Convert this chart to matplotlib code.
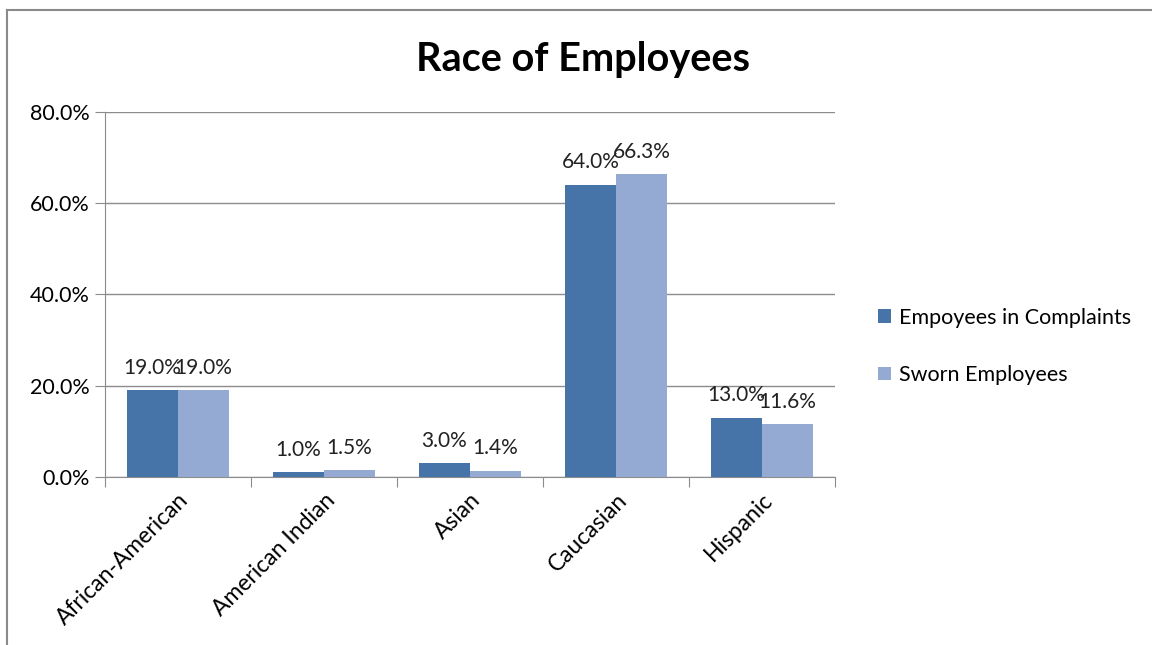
import matplotlib
matplotlib.use('Agg')
import matplotlib.pyplot as plt
from matplotlib.lines import Line2D
from matplotlib.ticker import FuncFormatter
import numpy as np

plt.rcParams['font.family'] = ['Lato', 'DejaVu Sans']

# ---------- data ----------
categories = ['African-American', 'American Indian', 'Asian', 'Caucasian', 'Hispanic']
complaints = [19.0, 1.0, 3.0, 64.0, 13.0]
sworn = [19.0, 1.5, 1.4, 66.3, 11.6]
series_names = ['Empoyees in Complaints', 'Sworn Employees']

DARK = '#4673A8'
LIGHT = '#95AAD2'
GRID = '#8C8C8C'

fig = plt.figure(figsize=(11.52, 6.45), dpi=100)
ax = fig.add_axes([0.0911, 0.2605, 0.6337, 0.5659])

x = np.arange(len(categories))
w = 0.35
b1 = ax.bar(x - w / 2, complaints, w, color=DARK, label=series_names[0], zorder=3)
b2 = ax.bar(x + w / 2, sworn, w, color=LIGHT, label=series_names[1], zorder=3)

for bars, vals in [(b1, complaints), (b2, sworn)]:
    for rect, v in zip(bars, vals):
        ax.annotate(f'{v:.1f}%', (rect.get_x() + rect.get_width() / 2, v),
                    xytext=(0, 9), textcoords='offset points',
                    ha='center', va='bottom', fontsize=15, color='#222222', zorder=4)

ax.set_xlim(-0.5, len(categories) - 0.5)
ax.set_ylim(0, 80)
ax.set_yticks([0, 20, 40, 60, 80])
ax.yaxis.set_major_formatter(FuncFormatter(lambda v, p: f'{v:.1f}%'))
ax.grid(axis='y', color=GRID, lw=1, zorder=0)

# category boundary ticks
ax.set_xticks(np.arange(-0.5, len(categories)), minor=False)
ax.set_xticklabels([])
ax.set_xticks(x, minor=True)
ax.set_xticklabels(categories, minor=True, rotation=45, ha='right',
                   rotation_mode='anchor', fontsize=16.5)
ax.tick_params(axis='x', which='minor', length=0, pad=9)
ax.tick_params(axis='x', which='major', length=7, color=GRID)
ax.tick_params(axis='y', length=7, color=GRID, labelsize=15.5, pad=4)

for side in ['top', 'right']:
    ax.spines[side].set_visible(False)
for side in ['left', 'bottom']:
    ax.spines[side].set_color(GRID)

fig.text(0.506, 0.908, 'Race of Employees', ha='center', va='center',
         fontsize=28.5, fontweight='bold')

fig.legend(handles=[b1, b2], labels=series_names, loc='center left',
           bbox_to_anchor=(0.745, 0.463), frameon=False, fontsize=15.5,
           handlelength=0.6, handleheight=0.6, handletextpad=0.4,
           labelspacing=1.75)

# chart border (left and top edges)
fig.add_artist(Line2D([7 / 1152, 7 / 1152], [0, 1 - 10 / 645],
                      transform=fig.transFigure, color='#8A8A8A', lw=1.5))
fig.add_artist(Line2D([7 / 1152, 1], [1 - 10 / 645, 1 - 10 / 645],
                      transform=fig.transFigure, color='#8A8A8A', lw=1.5))

fig.savefig('out.png', dpi=100)
